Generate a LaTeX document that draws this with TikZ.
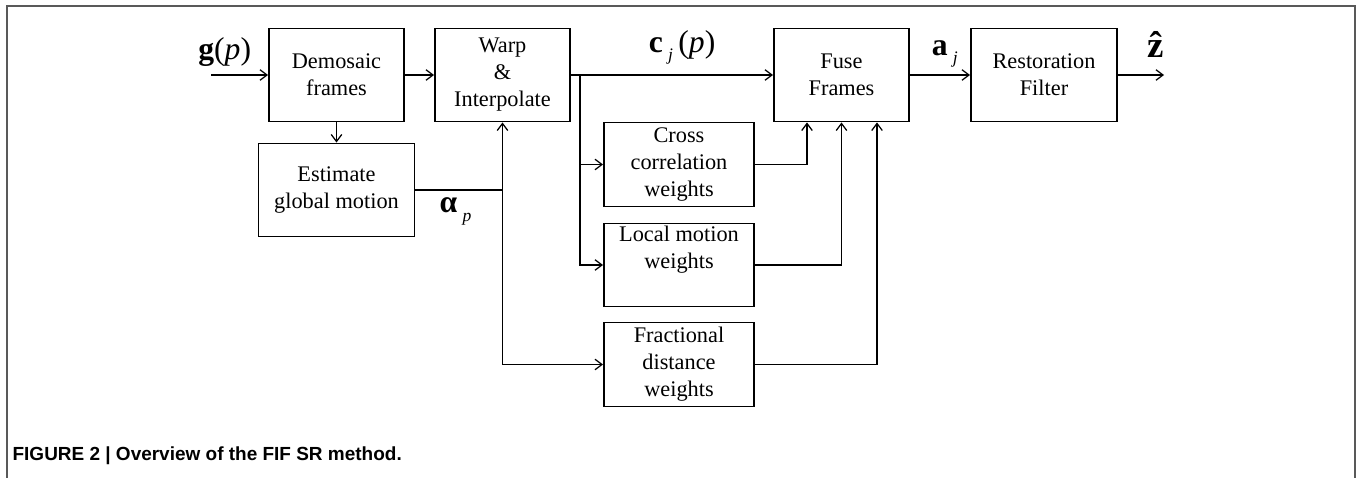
\documentclass[tikz,border=0pt]{standalone}
\usepackage{fontspec}
\setmainfont{Liberation Serif}
\newfontfamily\capfont{Liberation Sans}
\usetikzlibrary{arrows.meta,positioning}
\tikzstyle{block} = [draw, rectangle, line width=1.1pt, minimum height=1.86cm, minimum width=2.7cm, align=center, inner sep=0pt, font=\fontsize{12.7}{15.4}\selectfont]
\tikzstyle{wblock} = [block, minimum width=3cm, minimum height=1.68cm]
\tikzstyle{input} = [coordinate]
\tikzstyle{output} = [coordinate]
\tikzstyle{sym} = [font=\fontsize{18}{20}\selectfont]

\begin{document}
\begin{tikzpicture}[auto, node distance=3cm, >={Straight Barb[length=4pt,width=6pt]}, line width=0.7pt]

\useasboundingbox (0,0) rectangle (27.16,-9.56);
\draw [line width=0.9pt, black!65] (0.14,-9.56) -- (0.14,-0.12) -- (27.10,-0.12) -- (27.10,-9.56);

\node [input, name=input] at (4.22,-1.50) {};
\node [block, right of=input, node distance=2.51cm] (demosaic) {Demosaic\\frames};
\node [block, right of=demosaic, node distance=3.32cm] (warp) {Warp\\\&\\Interpolate};
\node [block, right of=warp, node distance=6.78cm] (fuse) {Fuse\\Frames};
\node [block, right of=fuse, node distance=4.05cm, minimum width=2.92cm] (restore) {Restoration\\Filter};
\node [output, right of=restore, node distance=2.4cm] (zhat) {};

\node [block, below of=demosaic, node distance=2.3cm, minimum width=3.12cm] (estimate) {Estimate\\global motion};
\node [wblock, below of=warp, node distance=1.79cm, xshift=3.53cm] (crosscorr) {Cross\\correlation\\weights};
\node [wblock, below of=crosscorr, node distance=2.01cm, minimum height=1.66cm] (localmo) {Local motion\\weights\\\strut};
\node [wblock, below of=localmo, node distance=1.99cm] (fracdist) {Fractional\\distance\\weights};
\node [coordinate, right of=warp, node distance=1.55cm] (tap) {};

\draw [->] (input) -- node [sym, above, pos=0.24, yshift=0.05cm] {{\bfseries g}(\textit{p})} (demosaic);
\draw [->] (demosaic) -- (warp);
\draw [->] (demosaic) -- (estimate);
\draw [->] (estimate.east) -| node [sym, below, pos=0.23, yshift=-0.02cm] {{\bfseries α}\,\raisebox{-0.6ex}{\normalsize\itshape p}} (warp.south);
\draw [->] (estimate.east -| warp.south) |- (fracdist);
\draw [->] (warp) -- node [sym, above, pos=0.55, yshift=0.08cm] {{\bfseries c}\,\raisebox{-0.6ex}{\normalsize\itshape j}\,(\textit{p})} (fuse);
\draw [->] (tap) |- (crosscorr);
\draw [->] (tap) |- (localmo);
\draw [->] (crosscorr) -| ([xshift=-0.69cm]fuse.south);
\draw [->] (localmo) -| (fuse);
\draw [->] (fracdist) -| ([xshift=0.71cm]fuse.south);
\draw [->] (fuse) -- node [sym, above, pos=0.58, yshift=0.02cm] {{\bfseries a}\,\raisebox{-0.6ex}{\normalsize\itshape j}} (restore);
\draw [->] (restore) -- node [sym, above, pos=0.81, yshift=0.22cm, font=\fontsize{21}{24}\selectfont] {\bfseries\^{z}} (zhat);

\node [anchor=west, inner sep=0pt, font=\capfont\bfseries\fontsize{10.8}{13}\selectfont] (caption) at (0.24,-9.12) {FIGURE 2 | Overview of the FIF SR method.};

\end{tikzpicture}
\end{document}
